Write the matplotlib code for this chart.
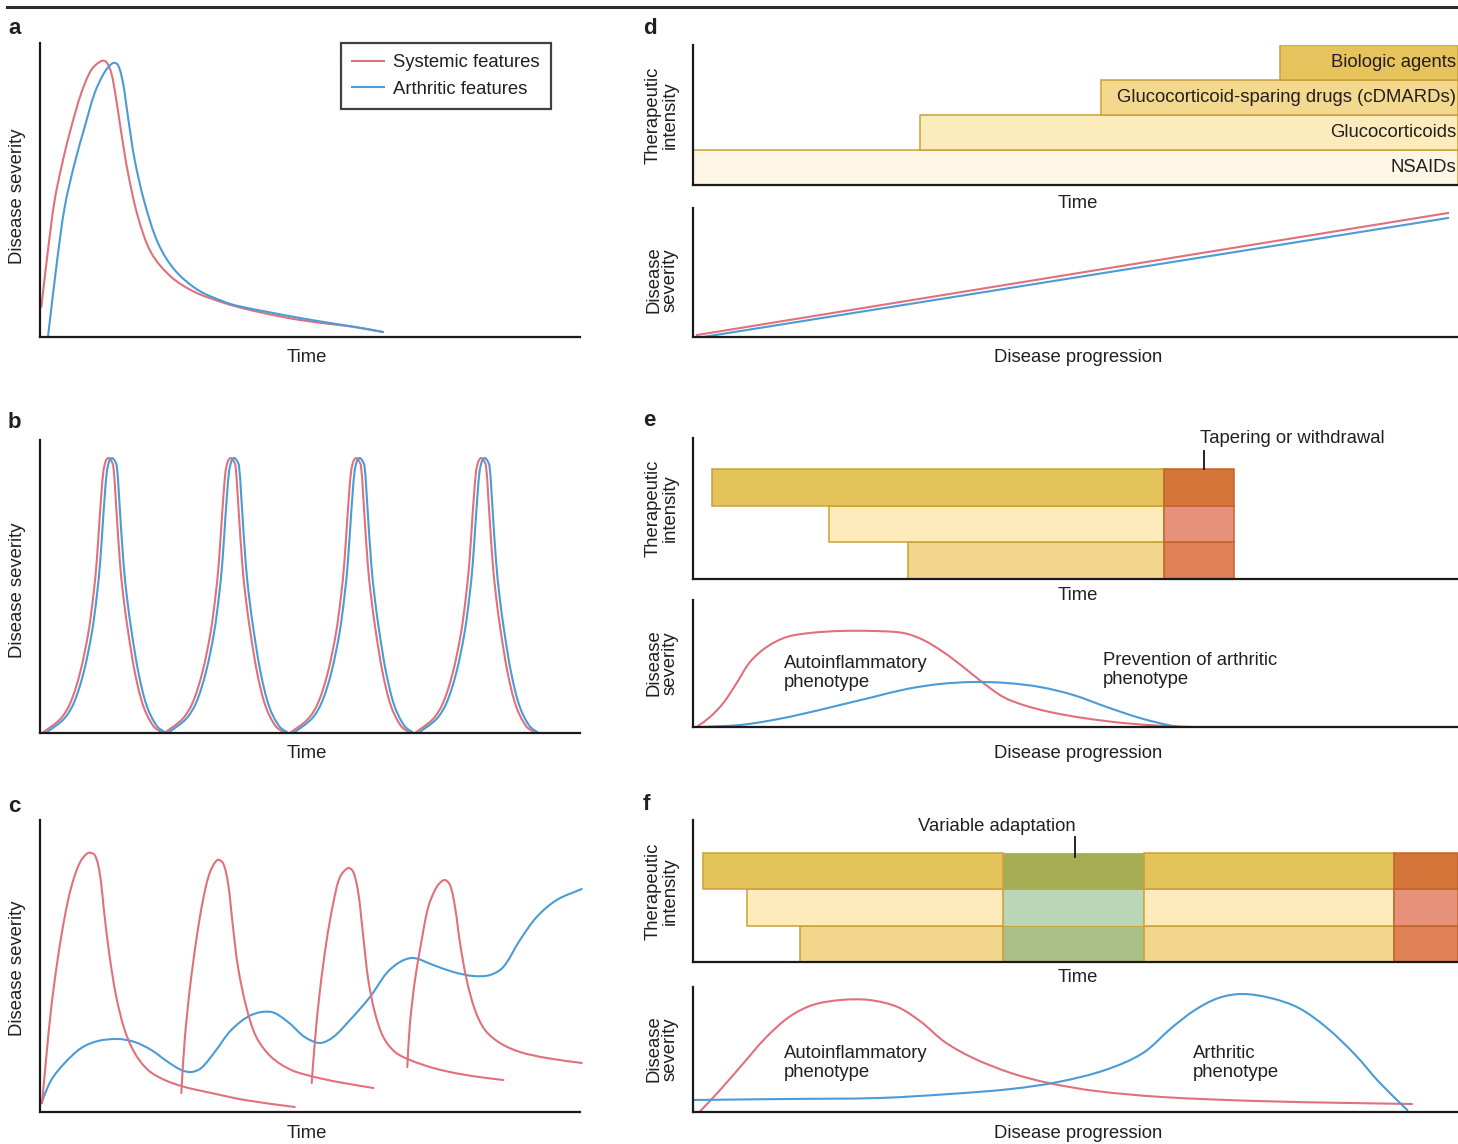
import math
import matplotlib
matplotlib.use("Agg")
import matplotlib.pyplot as plt
from matplotlib import font_manager as fm
from matplotlib.lines import Line2D
from matplotlib.path import Path
from matplotlib.patches import PathPatch

W, H = 1458, 1144
names = {f.name for f in fm.fontManager.ttflist}
FONT = 'Liberation Sans' if 'Liberation Sans' in names else 'DejaVu Sans'
plt.rcParams['font.family'] = [FONT, 'DejaVu Sans']

RED = '#E0717B'
BLUE = '#4A9BD6'
TXT = '#231F20'
FS = 13.3

# ---------------- data ----------------
# panel a
a_sys_t = [1.3,8,14.7,23,31.3,41.3,51.3,61.3,66.3,71.3,76.3,81.3,88,98,111.3,131.3,154.7,181.3,198,228,260,290,315,343]
a_sys_v = [30,87,137,177,210,244,267,276,275,264,237,204,164,120,84,60,45,35,30,23,17,13,10,5]
a_art_t = [8,16.3,24.7,34.7,44.7,54.7,64.7,73,78,83,88,94.7,104.7,118,134.7,158,184.7,198,228,260,290,315,343]
a_art_v = [0,70,130,174,210,244,265,274,272,254,220,177,134,94,67,47,35,31,25,19,14,10,5]

# panel b : one flare profile (offset from flare peak) and the flare peak times
b_dt = [-66,-48,-38,-28.3,-20,-15,-11.7,-8.3,-5,-2.5,0,2.5,5,8.3,11.7,15,20,26.7,35,45,54]
b_dv = [0,14,30,60,100,137,170,220,261,272,275,273,267,220,170,137,100,60,27,7,0]
b_sys_peaks = [68.3, 190.5, 316, 441]
b_art_peaks = [71.8, 194.0, 319.5, 444.5]

# panel c
c_sys_t = [
    [2,6.3,11.3,18,24.7,31.3,39.7,48,54.7,59.7,64.7,69.7,76.3,84.7,94.7,108,124.7,144.7,171.3,204.7,254.7],
    [141.3,144.7,149.7,156.3,163,169.7,177.3,183,188,193,198,206.3,216.3,231.3,251.3,274.7,298,333.3],
    [271.7,275,280,286.7,293.3,300,308.3,313.3,318.3,323.3,328.3,335,343.3,355,370,393.3,420,446.7,463.3],
    [367.3,370,375,381.7,388.3,396.7,404.3,410,415,420,426.7,435,445,460,480,506.7,541.7],
]
c_sys_v = [
    [8.7,55,105,155,195,225,249,259,257,239,195,155,115,82,59,42,32,25,19,12,5],
    [19,72,122,172,212,239,252,249,229,185,145,105,75,55,42,35,30,24],
    [29,72,122,172,209,235,244,240,219,175,132,99,75,60,52,44,38,34,32],
    [45,89,132,172,205,225,232,227,205,169,132,102,82,69,60,54,49],
]
c_art_t = [1.3,11.3,24.7,41.3,58,78,94.7,111.3,128,141.3,151.3,161.3,174.7,191.3,211.3,231.3,248,264.7,
           280,293.3,310,330,346.7,360,373.3,393.3,413.3,433.3,450,463.3,480,496.7,516.7,541.7]
c_art_v = [9,32,49,64,71,73,70,62,50,42,40,44,60,82,97,100,90,75,69,75,92,115,139,150,154,147,140,136,137,145,
           172,195,212,223]

# panel d
d_drugs = ['NSAIDs', 'Glucocorticoids', 'Glucocorticoid-sparing drugs (cDMARDs)', 'Biologic agents']
d_start = [0, 227, 408, 587]
d_end = 765
d_colors = ['#FEF6E4', '#FDECBB', '#F3D88D', '#E6C35C']
d_sys_p = [4, 755]
d_sys_v = [2, 124]
d_art_p = [10, 755]
d_art_v = [0, 119]

# panel e
e_start = [215, 136, 19]          # bottom, middle, top therapy rows
e_taper = 471
e_end = 541
e_colors = ['#F2D68C', '#FDEBBB', '#E5C35B']
e_taper_colors = ['#DF8055', '#E8917A', '#D4763A']
e_sys_p = [3.7,17,30.3,43.7,57,73.7,93.7,117,147,180.3,210.3,230.3,250.3,270.3,290.3,310.3,330.3,357,390.3,430.3,470.3,489]
e_sys_v = [0,10,24,44,65,80,90,94,96,96,94,87,75,60,44,30,22,15,9,4,1,0]
e_art_p = [7,47,80.3,113.7,147,180.3,213.7,247,280.3,313.7,347,380.3,413.7,447,480.3,500]
e_art_v = [0,2,7,14,22,30,38,43,45,44,40,32,20,9,1,0]

# panel f
f_start = [107, 54, 10]
f_adapt = [310, 451]
f_taper = 701
f_end = 765
f_colors = ['#F2D68C', '#FDEBBB', '#E5C35B']
f_adapt_colors = ['#ABBF87', '#B9D6B6', '#A6AD55']
f_taper_colors = ['#DF8055', '#E8917A', '#D4763A']
f_sys_p = [6.4,25.3,48.9,72.5,96.1,119.7,148,176.3,204.6,228.2,251.8,280.1,317.9,355.7,402.8,468.9,563.3,657.7,719]
f_sys_v = [0,20,47,74,95,107,112,112,105,90,70,54,39,29,21,15,11,9,8]
f_art_p = [0,91.4,185.8,256.6,317.9,365.1,412.3,450,478.4,502,525.5,549.1,577.5,605.8,634.1,662.4,686,714.3]
f_art_v = [12,13,14,18,23,30,42,59,84,102,114,118,114,104,84,57,30,2]

EDGE = '#C9A136'

# ---------------- figure ----------------
fig = plt.figure(figsize=(W / 100, H / 100), dpi=100)


def px_axes(left, top, right, bottom):
    ax = fig.add_axes([left / W, 1 - bottom / H, (right - left) / W, (bottom - top) / H])
    ax.set_xlim(0, right - left)
    ax.set_ylim(0, bottom - top)
    for s in ['top', 'right']:
        ax.spines[s].set_visible(False)
    for s in ['left', 'bottom']:
        ax.spines[s].set_linewidth(1.6)
        ax.spines[s].set_color('#1a1a1a')
        ax.spines[s].set_zorder(5)
    ax.set_xticks([])
    ax.set_yticks([])
    ax.patch.set_alpha(0)
    return ax


def ftext(x, y, s, **kw):
    kw.setdefault('fontsize', FS)
    kw.setdefault('color', TXT)
    fig.text(x / W, 1 - y / H, s, **kw)


def smooth(ax, xs, ys, color, lw=1.5, label=None):
    """Draw a smooth line (chord-length Hermite / Bezier) through the given points."""
    pts = list(zip(xs, ys))
    n = len(pts)
    dist = [math.hypot(pts[i + 1][0] - pts[i][0], pts[i + 1][1] - pts[i][1]) or 1e-6 for i in range(n - 1)]
    tang = []
    for i in range(n):
        if i == 0:
            tang.append(((pts[1][0] - pts[0][0]) / dist[0], (pts[1][1] - pts[0][1]) / dist[0]))
        elif i == n - 1:
            tang.append(((pts[i][0] - pts[i - 1][0]) / dist[i - 1], (pts[i][1] - pts[i - 1][1]) / dist[i - 1]))
        else:
            s = dist[i - 1] + dist[i]
            tang.append(((pts[i + 1][0] - pts[i - 1][0]) / s, (pts[i + 1][1] - pts[i - 1][1]) / s))
    verts = [pts[0]]
    codes = [Path.MOVETO]
    for i in range(n - 1):
        L = dist[i] / 3
        c1 = (pts[i][0] + tang[i][0] * L, pts[i][1] + tang[i][1] * L)
        c2 = (pts[i + 1][0] - tang[i + 1][0] * L, pts[i + 1][1] - tang[i + 1][1] * L)
        verts += [c1, c2, pts[i + 1]]
        codes += [Path.CURVE4] * 3
    patch = PathPatch(Path(verts, codes), fill=False, edgecolor=color, lw=lw,
                      clip_on=False, capstyle='round', joinstyle='round')
    ax.add_patch(patch)
    if label:
        ax.plot([], [], color=color, lw=lw, label=label)


lw = 1.5
# top rule
fig.add_artist(Line2D([7 / W, 1], [1 - 7 / H, 1 - 7 / H], color='#2b2b2b', lw=2.2))

# panel a
ax = px_axes(40, 43, 580, 337)
smooth(ax, a_sys_t, a_sys_v, RED, lw, 'Systemic features')
smooth(ax, a_art_t, a_art_v, BLUE, lw, 'Arthritic features')
leg = ax.legend(loc='upper left', bbox_to_anchor=(341 / W, 1 - 43 / H), bbox_transform=fig.transFigure,
                borderaxespad=0, fancybox=False, edgecolor='#111111', fontsize=FS, handlelength=1.7,
                handletextpad=0.5, borderpad=0.62, labelspacing=0.5)
leg.get_frame().set_linewidth(1.6)
for t in leg.get_texts():
    t.set_color(TXT)

# panel b
ax = px_axes(40, 440, 580, 733)
for p in b_sys_peaks:
    smooth(ax, [p + d for d in b_dt], b_dv, RED, lw)
for p in b_art_peaks:
    smooth(ax, [p + d for d in b_dt], b_dv, BLUE, lw)

# panel c
ax = px_axes(40, 820, 580, 1112)
smooth(ax, c_art_t, c_art_v, BLUE, lw)
for t, v in zip(c_sys_t, c_sys_v):
    smooth(ax, t, v, RED, lw)

for y, lab in [(43, 'a'), (437, 'b'), (820, 'c')]:
    ftext(8, y - 14, lab, fontsize=16, fontweight='bold', va='center', ha='left')
for yc in [196, 590, 968]:
    ftext(18, yc, 'Disease severity', rotation=90, ha='center', va='center')
for y in [357, 753, 1134]:
    ftext(307, y, 'Time', ha='center', va='center')

# panel d
ax = px_axes(693, 45, 1458, 185)
unit = 35.0
ax.set_ylim(0, 140 / unit)
for i, (lab, s, c) in enumerate(zip(d_drugs, d_start, d_colors)):
    ax.barh(i + 0.5, d_end - s, left=s, height=1, color=c, edgecolor=EDGE, linewidth=1.1, align='center')
    ax.text(d_end - 2, i + 0.5, lab, ha='right', va='center', fontsize=FS, color=TXT)

ax = px_axes(693, 208, 1458, 337)
ax.plot(d_sys_p, d_sys_v, color=RED, lw=lw, clip_on=False)
ax.plot(d_art_p, d_art_v, color=BLUE, lw=lw, clip_on=False)

# panel e
ax = px_axes(693, 438, 1458, 579)
unit = 36.7
ax.set_ylim(0, 141 / unit)
for i in range(3):
    ax.barh(i + 0.5, e_taper - e_start[i], left=e_start[i], height=1, color=e_colors[i],
            edgecolor=EDGE, linewidth=1.1)
    ax.barh(i + 0.5, e_end - e_taper, left=e_taper, height=1, color=e_taper_colors[i],
            edgecolor='#C0652E', linewidth=1.1)
ax.plot([511, 511], [3.0, 3.0 + 18 / unit], color='#111111', lw=1.3, clip_on=False)
ax.text(507, 3.0 + 30 / unit, 'Tapering or withdrawal', ha='left', va='center', fontsize=FS, color=TXT)

ax = px_axes(693, 600, 1458, 727)
smooth(ax, e_sys_p, e_sys_v, RED, lw)
smooth(ax, e_art_p, e_art_v, BLUE, lw)
ax.text(91, 54, 'Autoinflammatory\nphenotype', ha='left', va='center', fontsize=FS, color=TXT, linespacing=1.15)
ax.text(410, 57, 'Prevention of arthritic\nphenotype', ha='left', va='center', fontsize=FS, color=TXT, linespacing=1.15)

# panel f
ax = px_axes(693, 820, 1458, 962)
unit = 36.3
ax.set_ylim(0, 142 / unit)
for i in range(3):
    ax.barh(i + 0.5, f_adapt[0] - f_start[i], left=f_start[i], height=1, color=f_colors[i],
            edgecolor=EDGE, linewidth=1.1)
    ax.barh(i + 0.5, f_adapt[1] - f_adapt[0], left=f_adapt[0], height=1, color=f_adapt_colors[i],
            edgecolor=EDGE, linewidth=0.6)
    ax.barh(i + 0.5, f_taper - f_adapt[1], left=f_adapt[1], height=1, color=f_colors[i],
            edgecolor=EDGE, linewidth=1.1)
    ax.barh(i + 0.5, f_end - f_taper, left=f_taper, height=1, color=f_taper_colors[i],
            edgecolor='#C0652E', linewidth=1.1)
ax.plot([382, 382], [3.0 - 4 / unit, 3.0 + 16 / unit], color='#111111', lw=1.3, clip_on=False)
ax.text(304, 3.0 + 27 / unit, 'Variable adaptation', ha='center', va='center', fontsize=FS, color=TXT)

ax = px_axes(693, 987, 1458, 1112)
smooth(ax, f_sys_p, f_sys_v, RED, lw)
smooth(ax, f_art_p, f_art_v, BLUE, lw)
ax.text(91, 49, 'Autoinflammatory\nphenotype', ha='left', va='center', fontsize=FS, color=TXT, linespacing=1.15)
ax.text(500, 49, 'Arthritic\nphenotype', ha='left', va='center', fontsize=FS, color=TXT, linespacing=1.15)

for y, lab in [(45, 'd'), (437, 'e'), (820, 'f')]:
    ftext(643, y - 16, lab, fontsize=16, fontweight='bold', va='center', ha='left')
for y in [203, 596, 978]:
    ftext(1078, y, 'Time', ha='center', va='center')
for y in [357, 753, 1134]:
    ftext(1078, y, 'Disease progression', ha='center', va='center')
for yc in [115, 508, 891]:
    ftext(662, yc, 'Therapeutic\nintensity', rotation=90, ha='center', va='center', linespacing=1.0)
for yc in [280, 663, 1049]:
    ftext(662, yc, 'Disease\nseverity', rotation=90, ha='center', va='center', linespacing=1.0)

fig.savefig('out.png', dpi=100)
